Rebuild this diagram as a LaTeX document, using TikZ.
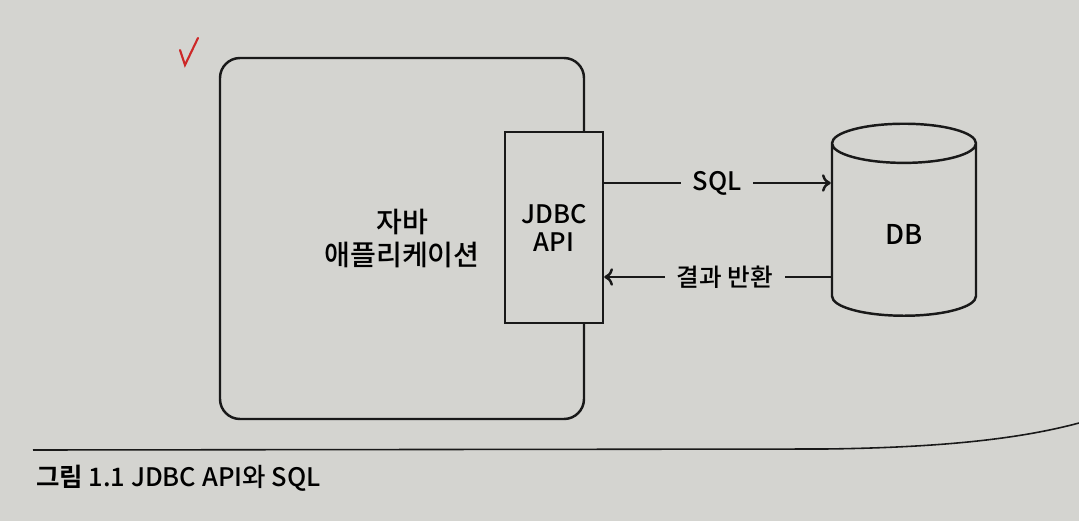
\documentclass[tikz,border=0pt]{standalone}
\usepackage{fontspec}
\newfontfamily\kr{Noto Sans CJK KR Medium}[BoldFont={Noto Sans CJK KR Bold}]
\usetikzlibrary{shapes.geometric,arrows.meta}
\definecolor{paper}{RGB}{212,212,208}
\definecolor{ink}{RGB}{25,25,25}
\definecolor{pen}{RGB}{205,40,40}
\begin{document}
\begin{tikzpicture}[line width=1.4pt, >={To[length=5pt,width=10pt]},
  box/.style={draw=ink, fill=paper, align=center},
  lbl/.style={fill=paper, font=\kr\fontsize{14.5}{16}\selectfont, inner xsep=6pt, inner ysep=1pt}]
  \fill[paper] (0,0) rectangle (21.58,-10.42);
  \useasboundingbox (0,0) rectangle (21.58,-10.42);
  \draw[pen, line width=1.2pt, line cap=round] (3.6,-1.0) -- (3.7,-1.3) -- (3.96,-0.76);
  \node[box, rounded corners=0.4cm, minimum width=7.28cm, minimum height=7.22cm,
        font=\kr\fontsize{16}{19}\selectfont] (app) at (8.04,-4.77) {자바\\애플리케이션};
  \node[box, minimum width=1.96cm, minimum height=3.82cm,
        font=\kr\fontsize{14.5}{16}\selectfont] (jdbc) at (11.08,-4.55) {JDBC\\API};
  \node[box, cylinder, shape border rotate=90, aspect=0.8, minimum width=2.88cm,
        minimum height=3.84cm, font=\kr\fontsize{15.5}{17}\selectfont] (db) at (18.08,-4.68) {DB};
  \node[lbl] (sql) at (14.34,-3.66) {SQL};
  \node[lbl, font=\kr\fontsize{14}{16}\selectfont] (ret) at (14.5,-5.54) {결과 반환};
  \draw[ink] (jdbc.east |- sql) -- (sql.west);
  \draw[ink, ->] (sql.east) -- (db.west |- sql);
  \draw[ink] (db.west |- ret) -- (ret.east);
  \draw[ink, ->] (ret.west) -- (jdbc.east |- ret);
  \draw[ink, line width=0.9pt] (0.66,-9.0) -- (16.5,-8.98) .. controls (19,-8.95) and (20.5,-8.75) .. (21.58,-8.46);
  \node[anchor=west, inner sep=0pt, font=\kr\fontsize{14.5}{16}\selectfont] (cap) at (0.7,-9.56) {\textbf{그림} 1.1 JDBC API와 SQL};
\end{tikzpicture}
\end{document}
